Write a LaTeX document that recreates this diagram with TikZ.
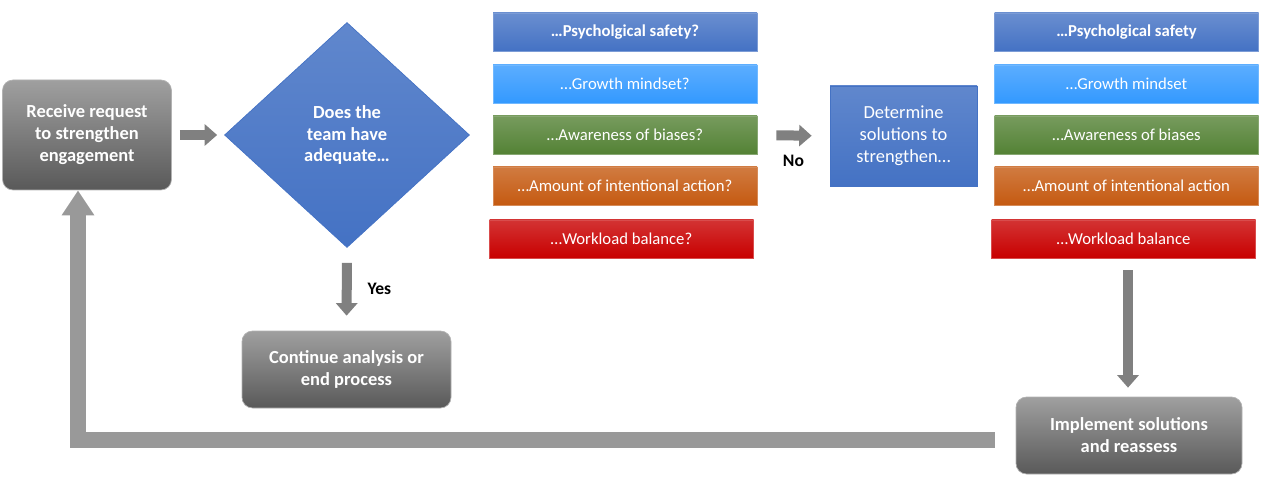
\documentclass[tikz,border=0pt]{standalone}
\usepackage{fontspec}
\setmainfont{Carlito}
\usetikzlibrary{shapes.geometric,arrows.meta}

\definecolor{boxblue}{HTML}{4472C4}
\definecolor{lightblue}{HTML}{3399FF}
\definecolor{boxgreen}{HTML}{548235}
\definecolor{boxorange}{HTML}{C55A11}
\definecolor{boxred}{HTML}{C80000}

\tikzset{
  graybox/.style={rounded corners=6pt, top color=gray!75, bottom color=black!65, draw=gray!60,
    text=white, font=\bfseries\fontsize{10.5}{12.5}\selectfont, align=center, inner sep=0pt},
  listbox/.style={minimum width=5.28cm, minimum height=0.76cm, inner sep=0pt, text=white,
    font=\fontsize{9.5}{11}\selectfont, top color=#1!80, bottom color=#1, draw=#1!70},
  blockarrow/.style={draw=gray, line width=0.2cm, -{Triangle[length=0.25cm, width=0.42cm]}},
  bigarrow/.style={draw=gray!80, line width=0.32cm, -{Triangle[length=0.5cm, width=0.62cm]}},
  lbl/.style={font=\bfseries\fontsize{10}{12}\selectfont}
}

\begin{document}
\begin{tikzpicture}
\useasboundingbox (0,0) rectangle (25.4,9.78);

\node[graybox, minimum width=3.38cm, minimum height=2.2cm] (recv) at (1.74,7.08) {Receive request\\to strengthen\\engagement};
\node[diamond, minimum width=4.9cm, minimum height=4.5cm, inner sep=0pt, top color=boxblue!85, bottom color=boxblue, draw=boxblue,
  text=white, font=\bfseries\fontsize{10.5}{12.5}\selectfont, align=center] (team) at (6.94,7.08) {Does the\\team have\\adequate\dots};

% questions
\node[listbox=boxblue, font=\bfseries\fontsize{9.5}{11}\selectfont] (q1) at (12.5,9.14) {\dots Psycholgical safety?};
\node[listbox=lightblue] (q2) at (12.5,8.10) {\dots Growth mindset?};
\node[listbox=boxgreen] (q3) at (12.5,7.08) {\dots Awareness of biases?};
\node[listbox=boxorange] (q4) at (12.5,6.06) {\dots Amount of intentional action?};
\node[listbox=boxred] (q5) at (12.43,5.0) {\dots Workload balance?};

\node[minimum width=2.94cm, minimum height=2.0cm, inner sep=0pt, top color=boxblue!85, bottom color=boxblue, draw=boxblue,
  text=white, font=\fontsize{10.5}{12.5}\selectfont, align=center] (sol) at (18.07,7.06) {Determine\\solutions to\\strengthen\dots};

% solutions
\node[listbox=boxblue, font=\bfseries\fontsize{9.5}{11}\selectfont] (s1) at (22.53,9.14) {\dots Psycholgical safety};
\node[listbox=lightblue] (s2) at (22.53,8.10) {\dots Growth mindset};
\node[listbox=boxgreen] (s3) at (22.53,7.08) {\dots Awareness of biases};
\node[listbox=boxorange] (s4) at (22.53,6.06) {\dots Amount of intentional action};
\node[listbox=boxred] (s5) at (22.47,5.0) {\dots Workload balance};

\node[graybox, minimum width=4.18cm, minimum height=1.54cm] (cont) at (6.93,2.39) {Continue analysis or\\end process};
\node[graybox, minimum width=4.52cm, minimum height=1.54cm] (impl) at (22.58,1.07) {Implement solutions\\and reassess};

\coordinate (corner) at (1.56,0.98);

\draw[blockarrow, shorten <=0.16cm, shorten >=0.14cm] (recv.east) -- (team.west);
\draw[blockarrow, shorten <=0.3cm, shorten >=0.3cm] (team.south) -- (cont.north) node[lbl, midway, right=0.2cm] {Yes};
\draw[blockarrow, shorten <=0.38cm, shorten >=0.36cm] (q3.east) -- (sol.west) node[lbl, midway, below=0.18cm] {No};
\draw[blockarrow, shorten <=0.24cm, shorten >=0.18cm] ([xshift=0.09cm]s5.south) -- ([xshift=0.09cm]s5.south |- impl.north);
\draw[bigarrow, shorten <=0.42cm] (impl.west |- corner) -- (corner) -- (corner |- recv.south);

\end{tikzpicture}
\end{document}
